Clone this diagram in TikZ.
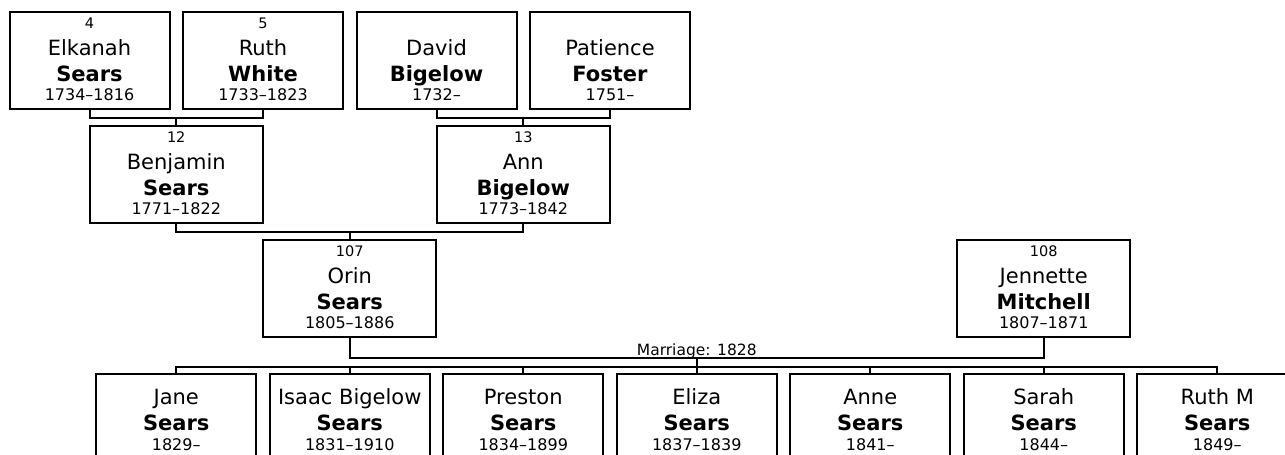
\documentclass[tikz,border=0pt]{standalone}
\usepackage{fontspec}
\setmainfont{DejaVu Sans}
\usetikzlibrary{calc}

\newcommand{\numtxt}{\fontsize{14.5}{14.5}\selectfont}
\newcommand{\nametxt}{\fontsize{21}{21}\selectfont}
\newcommand{\datetxt}{\fontsize{16}{16}\selectfont}
% one centred line, baseline at the current point
\newcommand{\pline}[1]{\hbox to 0pt{\hss\smash{#1}\hss}}
% ancestor card: number, first name, surname, years
\newcommand{\elder}[4]{\vbox to 97pt{\offinterlineskip
  \vskip 16.5pt\pline{\numtxt #1}
  \vskip 26.5pt\pline{\nametxt #2}
  \vskip 26pt\pline{\nametxt\bfseries #3}
  \vskip 19.7pt\pline{\datetxt #4}\vfil}}
% child card: first name, surname, years
\newcommand{\young}[3]{\vbox to 97pt{\offinterlineskip
  \vskip 30pt\pline{\nametxt #1}
  \vskip 26pt\pline{\nametxt\bfseries #2}
  \vskip 20pt\pline{\datetxt #3}\vfil}}

\tikzset{
  smallbox/.style={draw, line width=2pt, inner sep=0pt, outer sep=0pt,
    minimum width=160pt, minimum height=97pt, anchor=north},
  widebox/.style={smallbox, minimum width=173pt},
  link/.style={line width=2pt}
}

\begin{document}
\begin{tikzpicture}[x=1pt, y=-1pt]
        \useasboundingbox (0,0) rectangle (1285,455);
        \clip (0,0) rectangle (1285,455);

        % Grandparents
        \node[smallbox] (elkanah) at (89.5,12) {\elder{4}{Elkanah}{Sears}{1734–1816}};
        \node[smallbox] (ruthw) at (263,12) {\elder{5}{Ruth}{White}{1733–1823}};
        \node[smallbox] (david) at (436.5,12) {\elder{}{David}{Bigelow}{1732–}};
        \node[smallbox] (patience) at (610,12) {\elder{}{Patience}{Foster}{1751–}};

        % Parents
        \node[widebox] (benjamin) at (176.25,126) {\elder{12}{Benjamin}{Sears}{1771–1822}};
        \node[widebox] (ann) at (523.25,126) {\elder{13}{Ann}{Bigelow}{1773–1842}};
        \draw[link] (elkanah.south) -- ++(0,8.5) -| (ruthw.south);
        \draw[link] (benjamin.north) -- ++(0,-8.5);
        \draw[link] (david.south) -- ++(0,8.5) -| (patience.south);
        \draw[link] (ann.north) -- ++(0,-8.5);

        % The couple
        \node[widebox] (orin) at (349.75,240) {\elder{107}{Orin}{Sears}{1805–1886}};
        \node[widebox] (jennette) at (1043.75,240) {\elder{108}{Jennette}{Mitchell}{1807–1871}};
        \draw[link] (benjamin.south) -- ++(0,8.5) -| (ann.south);
        \draw[link] (orin.north) -- ++(0,-8.5);
        \draw[link] (orin.south) -- ++(0,21) -|
          node[pos=0.25, anchor=base, yshift=2.5pt, font=\fontsize{15.5}{15.5}\selectfont] (wedding) {Marriage: 1828}
          coordinate[pos=0.25] (wed) (jennette.south);

        % Children
        \foreach \i/\k/\first/\yrs in {0/jane/Jane/1829–, 1/isaac/Isaac Bigelow/1831–1910,
            2/preston/Preston/1834–1899, 3/eliza/Eliza/1837–1839, 4/anne/Anne/1841–,
            5/sarah/Sarah/1844–, 6/ruthm/Ruth M/1849–}{
          \node[smallbox] (\k) at (176.25+173.5*\i,374) {\young{\first}{Sears}{\yrs}};
        }
        \draw[link] (wed) -- ++(0,9);
        \draw[link] (jane.north) -- ++(0,-7) -| (ruthm.north);
        \foreach \k in {isaac, preston, eliza, anne, sarah}
          \draw[link] (\k.north) -- ++(0,-7);
      \end{tikzpicture}
\end{document}
